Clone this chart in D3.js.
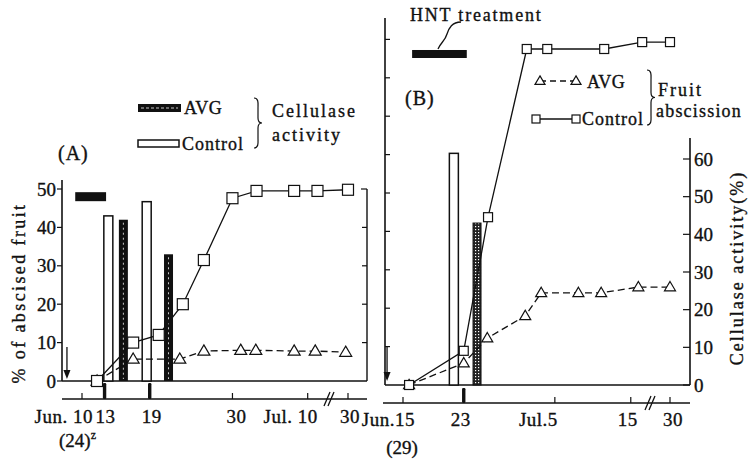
<!DOCTYPE html>
<html>
<head>
<meta charset="utf-8">
<script src="https://cdn.jsdelivr.net/npm/d3@7"></script>
<style>
  body { margin: 0; background: #fff; }
  text { font-family: "Liberation Serif", "Times New Roman", serif; fill: #111; stroke: #111; stroke-width: 0.35; }
</style>
</head>
<body>
<svg id="chart" width="753" height="468"></svg>
<script>
// ---- data (days counted from June 1; July d = 30 + d) ----
// panel A: fruit abscission (%)
const ctrlA_days = [12, 16.8, 20.2, 23.4, 26.2, 30, 33.2, 38.2, 41.3, 60];
const ctrlA_vals = [0, 10, 12, 20, 31.5, 47.6, 49.5, 49.5, 49.5, 49.8];
const avgA_days = [12, 16.8, 23, 26.2, 31.1, 33.1, 38.2, 41, 58];
const avgA_vals = [0, 5.7, 5.7, 7.8, 8, 8, 7.8, 7.8, 7.5];
// panel A: cellulase activity bars
const ctrlBarA_days = [13.5, 18.6];
const ctrlBarA_vals = [43, 46.7];
const avgBarA_days = [15.5, 21.5];
const avgBarA_vals = [42, 33];

// panel B: fruit abscission (%)
const ctrlB_days = [15.8, 23, 26.2, 31.3, 34, 41.5, 46.5, 60];
const ctrlB_vals = [0, 8.9, 43.7, 87.5, 87.5, 87.5, 89.3, 89.3];
const avgB_days = [15.8, 23, 26.1, 31.1, 33.2, 38.1, 41.1, 46, 60];
const avgB_vals = [0, 5.7, 12.2, 18, 24, 24, 24, 25.5, 25.5];
// panel B: cellulase activity bars (right axis)
const ctrlBarB_days = [21.7];
const ctrlBarB_vals = [61.5];
const avgBarB_days = [24.75];
const avgBarB_vals = [43];

// time axes
const ticksA = [10, 13, 19, 30, 40, 60];
const tickLabelsA = ["Jun. 10", "13", "19", "30", "Jul. 10", "30"];
const marksA = [13, 19];
const ticksB = [15, 23, 35, 45, 60];
const tickLabelsB = ["Jun.15", "23", "Jul.5", "15", "30"];
const marksB = [23];
const hntA = [9.1, 13.2];
const hntB = [16.2, 23.4];
const arrowA = 8, arrowB = 12.9;

const svg = d3.select("#chart");

// scales
const xA = d3.scaleLinear().domain([10, 42.7, 60]).range([82, 328, 348]);
const yA = d3.scaleLinear().domain([0, 50]).range([381, 189]);
const xB = d3.scaleLinear().domain([15, 47.4, 60]).range([403, 649, 670]);
const yB = d3.scaleLinear().domain([0, 90]).range([385, 39.4]);
const yB2 = d3.scaleLinear().domain([0, 60]).range([385, 159]);

// patterns
const defs = svg.append("defs");
const grid = defs.append("pattern").attr("id", "grid")
  .attr("patternUnits", "userSpaceOnUse").attr("width", 3).attr("height", 3);
grid.append("rect").attr("width", 3).attr("height", 3).attr("fill", "#222");
grid.append("rect").attr("x", 1).attr("y", 1).attr("width", 1.2).attr("height", 1.2).attr("fill", "#fff");

function drawSeries(g, x, y, days, vals, kind, size, dashed) {
  const pts = days.map((d, i) => [x(d), y(vals[i])]);
  g.append("path")
    .attr("d", d3.line()(pts))
    .attr("fill", "none")
    .attr("stroke", "#111")
    .attr("stroke-width", 1.3)
    .attr("stroke-dasharray", dashed ? "7,4" : null);
  pts.forEach(p => marker(g, p[0], p[1], kind, size));
}

function marker(g, cx, cy, kind, s) {
  if (kind === "sq") {
    g.append("rect").attr("x", cx - s / 2).attr("y", cy - s / 2)
      .attr("width", s).attr("height", s)
      .attr("fill", "#fff").attr("stroke", "#111").attr("stroke-width", 1.2);
  } else {
    const h = s * 0.85;
    g.append("path")
      .attr("d", `M${cx},${cy - h * 0.6}L${cx + s / 2},${cy + h * 0.4}L${cx - s / 2},${cy + h * 0.4}Z`)
      .attr("fill", "#fff").attr("stroke", "#111").attr("stroke-width", 1.2);
  }
}

function ctrlBars(g, x, y, days, vals) {
  days.forEach((d, i) => {
    g.append("rect").attr("x", x(d) - 4.5).attr("y", y(vals[i]))
      .attr("width", 9).attr("height", y(0) - y(vals[i]))
      .attr("fill", "#fff").attr("stroke", "#111").attr("stroke-width", 1.5);
  });
}

function brace(g, x, y0, y1) {
  const m = (y0 + y1) / 2;
  g.append("path")
    .attr("d", `M${x},${y0} C${x + 5},${y0} ${x + 4},${y0 + 6} ${x + 4},${y0 + 10} L${x + 4},${m - 5} C${x + 4},${m - 1} ${x + 6},${m} ${x + 8},${m} C${x + 6},${m} ${x + 4},${m + 1} ${x + 4},${m + 5} L${x + 4},${y1 - 10} C${x + 4},${y1 - 6} ${x + 5},${y1} ${x},${y1}`)
    .attr("fill", "none").attr("stroke", "#111").attr("stroke-width", 1.2);
}

function txt(x, y, s, size, anchor, ls) {
  return svg.append("text").attr("x", x).attr("y", y).attr("dy", "0.35em")
    .attr("font-size", size).attr("text-anchor", anchor || "start")
    .attr("letter-spacing", ls == null ? 1 : ls).text(s);
}

function downArrow(g, x, y0, y1) {
  g.append("line").attr("x1", x).attr("x2", x).attr("y1", y0).attr("y2", y1 - 6)
    .attr("stroke", "#111").attr("stroke-width", 1.3);
  g.append("path").attr("d", `M${x - 3.5},${y1 - 9}L${x + 3.5},${y1 - 9}L${x},${y1}Z`).attr("fill", "#111");
}

function timeAxis(g, x, yLine, x0, x1, ticks, labels, marks, markTop, breakX, labelY, anchors) {
  g.append("line").attr("x1", x0).attr("x2", x1).attr("y1", yLine).attr("y2", yLine)
    .attr("stroke", "#111").attr("stroke-width", 1.6);
  ticks.forEach(t => {
    g.append("line").attr("x1", x(t)).attr("x2", x(t)).attr("y1", yLine).attr("y2", yLine - 6)
      .attr("stroke", "#111").attr("stroke-width", 1.2);
  });
  marks.forEach(m => {
    g.append("rect").attr("x", x(m) - 1.7).attr("y", markTop).attr("width", 3.4)
      .attr("height", yLine - markTop).attr("rx", 1.2).attr("fill", "#111");
  });
  [0, 4].forEach(o => {
    g.append("line").attr("x1", breakX - 4 + o).attr("y1", yLine + 7)
      .attr("x2", breakX + 2 + o).attr("y2", yLine - 7)
      .attr("stroke", "#111").attr("stroke-width", 1.3);
  });
  ticks.forEach((t, i) => {
    const a = anchors[i];
    txt(x(t) + a[1], labelY, labels[i], 19, a[0], 0.5);
  });
}

// ---------------- panel A ----------------
const gA = svg.append("g");
// frame
gA.append("line").attr("x1", 62).attr("x2", 62).attr("y1", 180).attr("y2", yA(0)).attr("stroke", "#111").attr("stroke-width", 1.6);
gA.append("line").attr("x1", 62).attr("x2", 367).attr("y1", yA(0)).attr("y2", yA(0)).attr("stroke", "#111").attr("stroke-width", 1.6);
gA.append("line").attr("x1", 367).attr("x2", 367).attr("y1", yA(50)).attr("y2", yA(0)).attr("stroke", "#111").attr("stroke-width", 1.4);
gA.append("line").attr("x1", 361).attr("x2", 367).attr("y1", yA(50)).attr("y2", yA(50)).attr("stroke", "#111").attr("stroke-width", 1.2);
d3.range(0, 51, 10).forEach(v => {
  gA.append("line").attr("x1", 57).attr("x2", 62).attr("y1", yA(v)).attr("y2", yA(v)).attr("stroke", "#111").attr("stroke-width", 1.2);
  if (v > 0 && v < 50) gA.append("line").attr("x1", 362).attr("x2", 367).attr("y1", yA(v)).attr("y2", yA(v)).attr("stroke", "#111").attr("stroke-width", 1.2);
  txt(56, yA(v), String(v), 19, "end", 0);
});
// HNT bar
gA.append("rect").attr("x", xA(hntA[0])).attr("y", yA(48) - 4.5)
  .attr("width", xA(hntA[1]) - xA(hntA[0])).attr("height", 9).attr("fill", "#111");
// bars
ctrlBars(gA, xA, yA, ctrlBarA_days, ctrlBarA_vals);
avgBarA_days.forEach((d, i) => {
  const bx = xA(d) - 4.5, by = yA(avgBarA_vals[i]);
  gA.append("rect").attr("x", bx).attr("y", by).attr("width", 9).attr("height", yA(0) - by).attr("fill", "#111");
  gA.append("line").attr("x1", xA(d)).attr("x2", xA(d)).attr("y1", by + 3).attr("y2", yA(0) - 2)
    .attr("stroke", "#ddd").attr("stroke-width", 0.9).attr("stroke-dasharray", "2,3");
});
downArrow(gA, xA(arrowA), 347, 379);
drawSeries(gA, xA, yA, avgA_days, avgA_vals, "tri", 12, true);
drawSeries(gA, xA, yA, ctrlA_days, ctrlA_vals, "sq", 11, false);
timeAxis(gA, xA, 399, 62, 367, ticksA, tickLabelsA, marksA, 383, 328, 416,
  [["end", 11], ["middle", 1], ["middle", 2], ["middle", 4], ["end", 10], ["middle", 2]]);
svg.append("text").attr("x", 59).attr("y", 440).attr("dy", "0.35em").attr("font-size", 19)
  .text("(24)").append("tspan").attr("font-size", 12).attr("dy", "-0.6em").text("z");

// legend A
gA.append("rect").attr("x", 138).attr("y", 104).attr("width", 43).attr("height", 8).attr("fill", "#111");
gA.append("line").attr("x1", 141).attr("x2", 178).attr("y1", 108).attr("y2", 108)
  .attr("stroke", "#ddd").attr("stroke-width", 0.9).attr("stroke-dasharray", "3,2");
txt(184, 108, "AVG", 18, "start", 0.5);
gA.append("rect").attr("x", 138).attr("y", 140).attr("width", 41).attr("height", 7)
  .attr("fill", "#fff").attr("stroke", "#111").attr("stroke-width", 1.5);
txt(182, 144, "Control", 18, "start", 1);
brace(gA, 254, 98, 148);
txt(272, 111, "Cellulase", 18, "start", 2);
txt(272, 135, "activity", 18, "start", 2);
txt(58, 153, "(A)", 20, "start", 1);
svg.append("text").attr("transform", "translate(19,293) rotate(-90)").attr("dy", "0.35em")
  .attr("font-size", 18).attr("text-anchor", "middle").attr("letter-spacing", 2.4)
  .text("% of abscised fruit");

// ---------------- panel B ----------------
const gB = svg.append("g");
gB.append("line").attr("x1", 385).attr("x2", 385).attr("y1", 18).attr("y2", 385).attr("stroke", "#111").attr("stroke-width", 1.6);
gB.append("line").attr("x1", 385).attr("x2", 690).attr("y1", 385).attr("y2", 385).attr("stroke", "#111").attr("stroke-width", 1.6);
gB.append("line").attr("x1", 690).attr("x2", 690).attr("y1", 138).attr("y2", 385).attr("stroke", "#111").attr("stroke-width", 1.6);
d3.range(10, 91, 10).forEach(v => {
  gB.append("line").attr("x1", 385).attr("x2", 390).attr("y1", yB(v)).attr("y2", yB(v)).attr("stroke", "#111").attr("stroke-width", 1.2);
});
d3.range(0, 61, 10).forEach(v => {
  gB.append("line").attr("x1", 683).attr("x2", 690).attr("y1", yB2(v)).attr("y2", yB2(v)).attr("stroke", "#111").attr("stroke-width", 1.2);
  txt(694, yB2(v), String(v), 19, "start", 0);
});
gB.append("rect").attr("x", xB(hntB[0])).attr("y", yB(86.2) - 4)
  .attr("width", xB(hntB[1]) - xB(hntB[0])).attr("height", 8).attr("fill", "#111");
ctrlBars(gB, xB, yB2, ctrlBarB_days, ctrlBarB_vals);
avgBarB_days.forEach((d, i) => {
  const by = yB2(avgBarB_vals[i]);
  gB.append("rect").attr("x", xB(d) - 4).attr("y", by).attr("width", 8).attr("height", yB2(0) - by)
    .attr("fill", "url(#grid)").attr("stroke", "#111").attr("stroke-width", 1);
});
downArrow(gB, xB(arrowB), 347, 381);
drawSeries(gB, xB, yB, avgB_days, avgB_vals, "tri", 11, true);
drawSeries(gB, xB, yB, ctrlB_days, ctrlB_vals, "sq", 9, false);
timeAxis(gB, xB, 403, 383, 690, ticksB, tickLabelsB, marksB, 388, 649, 419,
  [["end", 12], ["middle", -3], ["end", 3], ["middle", -3], ["middle", 3]]);
txt(402, 447, "(29)", 19, "middle", 0);

// legend B
gB.append("line").attr("x1", 540).attr("x2", 576).attr("y1", 81).attr("y2", 81)
  .attr("stroke", "#111").attr("stroke-width", 1.3).attr("stroke-dasharray", "6,4");
marker(gB, 540, 81, "tri", 10);
marker(gB, 576, 81, "tri", 10);
txt(587, 82, "AVG", 18, "start", 0.5);
gB.append("line").attr("x1", 536).attr("x2", 576).attr("y1", 119).attr("y2", 119)
  .attr("stroke", "#111").attr("stroke-width", 1.3);
marker(gB, 536, 119, "sq", 8);
marker(gB, 576, 119, "sq", 8);
txt(582, 119, "Control", 18, "start", 1);
brace(gB, 647, 70, 125);
txt(658, 90, "Fruit", 18, "start", 2);
txt(656, 111, "abscission", 18, "start", 1.2);
txt(405, 98, "(B)", 20, "start", 1);
txt(410, 15, "HNT treatment", 18, "start", 1.8);
gB.append("path").attr("d", "M461,22 C452,22 449,28 447,34 C445,41 441,42 438,49")
  .attr("fill", "none").attr("stroke", "#111").attr("stroke-width", 1.3);
svg.append("text").attr("transform", "translate(737,268) rotate(-90)").attr("dy", "0.35em")
  .attr("font-size", 18).attr("text-anchor", "middle").attr("letter-spacing", 2)
  .text("Cellulase activity(%)");
</script>
</body>
</html>
